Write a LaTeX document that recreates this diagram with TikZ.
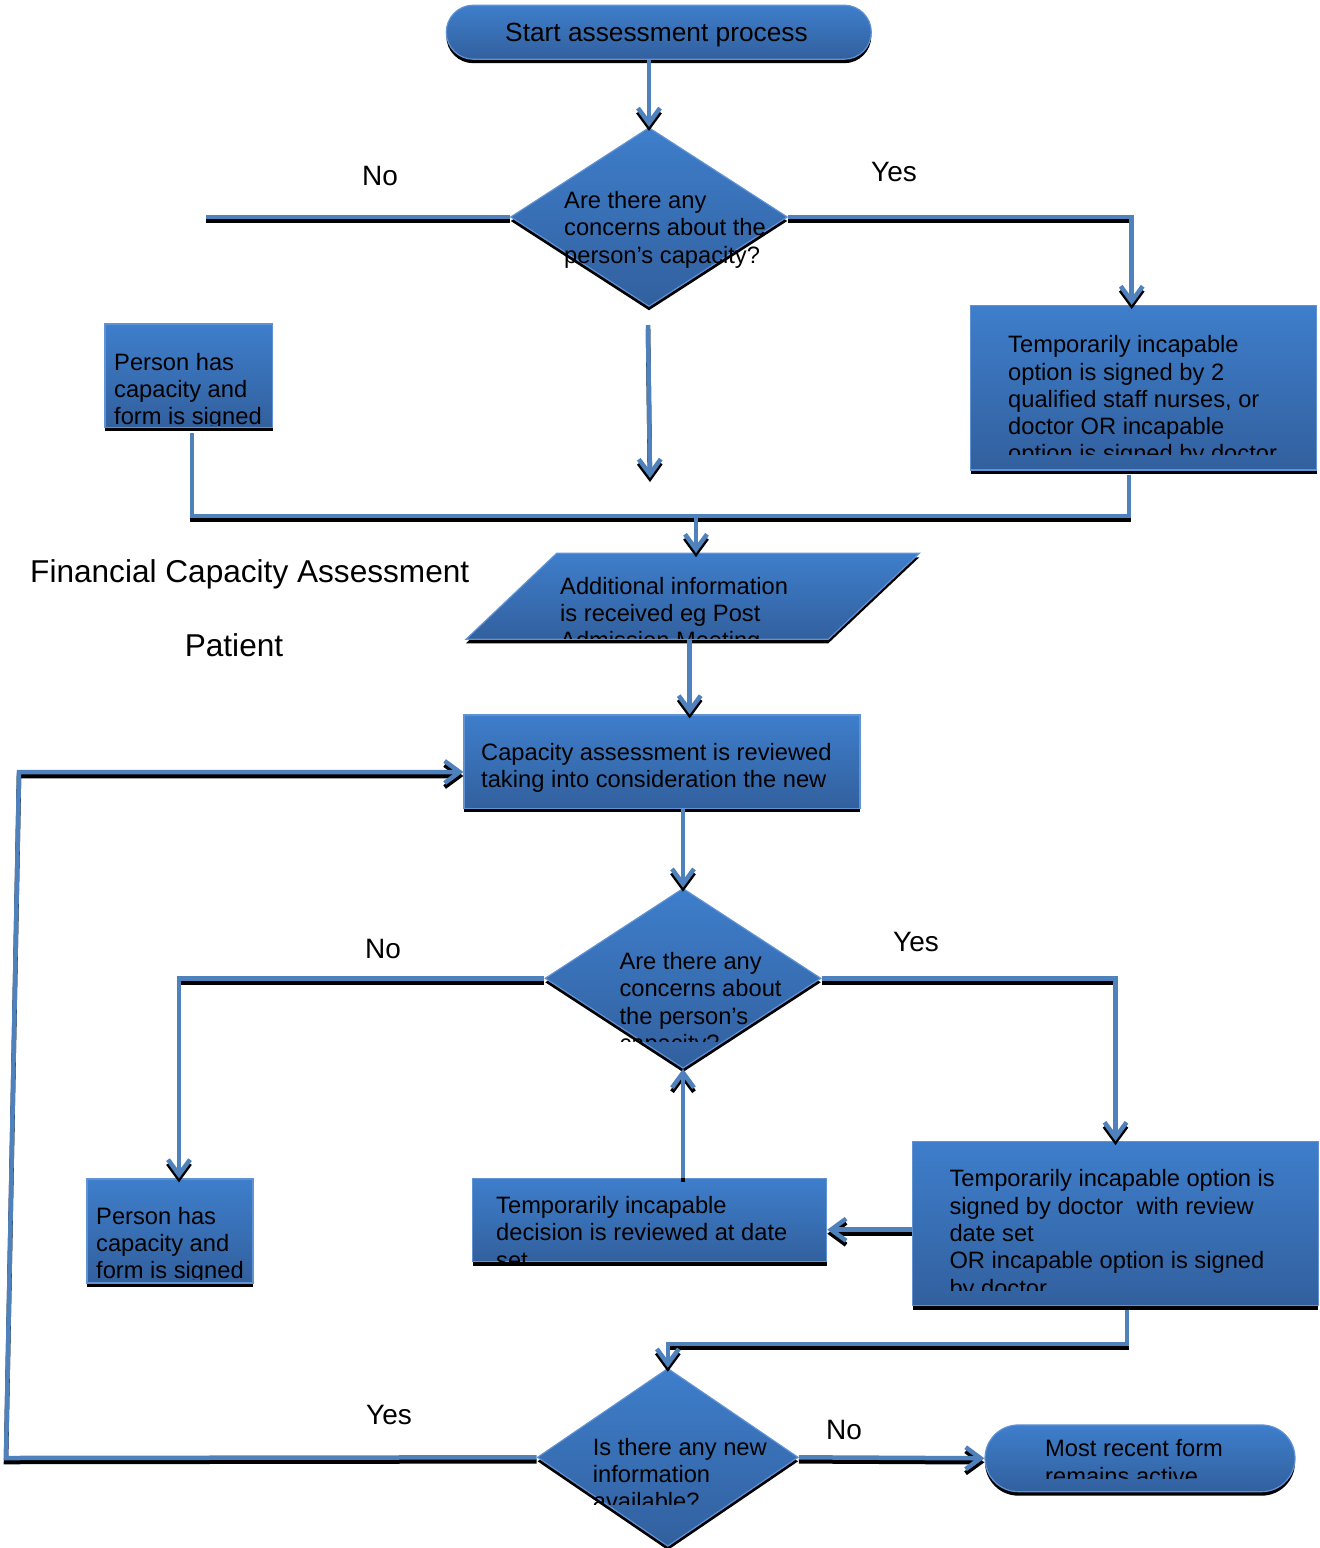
\documentclass[tikz,border=0pt]{standalone}
\usepackage{fontspec}
\setmainfont{Liberation Sans}
\usetikzlibrary{shapes.geometric,shapes.misc,shadows,arrows.meta}

\definecolor{topblue}{RGB}{62,126,203}
\definecolor{botblue}{RGB}{50,96,158}
\definecolor{edgeblue}{RGB}{96,146,212}
\definecolor{wireblue}{RGB}{79,129,189}

\tikzset{
  shapefill/.style={top color=topblue, bottom color=botblue, draw=edgeblue,
    line width=1.2pt, general shadow={fill=black, shadow yshift=-4pt}},
  procbox/.style={shapefill, rectangle, inner sep=0pt},
  decision/.style={shapefill, diamond, inner sep=0pt},
  terminal/.style={shapefill, rounded rectangle, inner sep=0pt},
  holder/.style={rectangle, inner sep=0pt, draw=none},
  boxtxt/.style={inner sep=0pt, align=left, anchor=north west,
    font=\fontsize{23.7}{27.3}\selectfont},
  lbl/.style={inner sep=0pt, font=\fontsize{28}{32}\selectfont},
  wire/.style={draw=wireblue, line width=4.5pt},
  wireshadow/.style={draw=black, line width=4.5pt, transform canvas={yshift=-4pt}},
  tip/.style={-{Straight Barb[length=15pt,width=22pt]}},
}

% a connector: black copy shifted down, blue line on top
\newcommand\link[2][]{\draw[wireshadow,#1] #2; \draw[wire,#1] #2;}
% text block cut off at a given bottom edge: name, x, first baseline, cut, text
\newcommand\cliptext[5]{%
  \begin{scope}
    \clip (#2-10,#3-30) rectangle (#2+420,#4);
    \node[boxtxt] (#1) at (#2,#3-19.11) {\strut #5};
  \end{scope}}

\begin{document}
\begin{tikzpicture}[x=1pt,y=-1pt]
\useasboundingbox (0,0) rectangle (1320,1548);

% ---- shapes
\node[terminal, minimum width=425, minimum height=54] (start) at (658.8,32.2) {};
\node[decision, minimum width=277, minimum height=179] (d1) at (649,217) {};
\node[procbox, minimum width=167.7, minimum height=103.3] (pcap1) at (188.8,375.7) {};
\node[procbox, minimum width=346, minimum height=164.3] (tinc1) at (1143.7,387.8) {};
\path[shapefill] (556.7,553.3) -- (919.3,553.3) -- (828.3,639.3) -- (466,639.3) -- cycle;
\node[holder, minimum width=453, minimum height=86] (para) at (692.7,596.3) {};
\node[procbox, minimum width=396, minimum height=93.3] (review) at (662,761.7) {};
\node[decision, minimum width=276, minimum height=180] (d2) at (683,978.3) {};
\node[procbox, minimum width=166, minimum height=104] (pcap2) at (170,1231) {};
\node[procbox, minimum width=354, minimum height=83.4] (revdate) at (649.7,1220) {};
\node[procbox, minimum width=405.6, minimum height=164] (tinc2) at (1115.5,1223.7) {};
\node[decision, minimum width=261, minimum height=178] (d3) at (667.8,1457.3) {};
\node[terminal, minimum width=310, minimum height=66.7] (final) at (1140,1458.3) {};

% ---- connectors
\coordinate (noEnd) at (206,217);
\coordinate (dropTop) at (648,325);
\coordinate (dropEnd) at (650,478);
\coordinate (busL) at (192,516);
\coordinate (busR) at (1129,516);
\coordinate (busM) at (696,516);
\coordinate (b3) at (1127,1344);
\coordinate (loopB) at (6,1458);
\coordinate (loopT) at (19,772);

\link[tip]{(start.south -| d1.north) -- (d1.north)}
\link{(d1.west) -- (noEnd)}
\link[tip]{(d1.east) -| ([xshift=-12pt]tinc1.north)}
\link[tip]{(dropTop) -- (dropEnd)}
\link{([yshift=-5pt]pcap1.south -| busL) -- (busL) -- (busR) -- ([yshift=-4pt]tinc1.south -| busR)}
\link[tip]{(busM) -- (busM |- para.north)}
\link[tip]{([xshift=-3pt]para.south) -- ([xshift=-3pt]para.south |- review.north)}
\link[tip]{(review.south -| d2.north) -- (d2.north)}
\link[tip]{(d2.west) -| ([xshift=9pt]pcap2.north)}
\link[tip]{(d2.east) -| (tinc2.north)}
\link[tip]{(d2.south |- revdate.north) -- (d2.south)}
\link[tip]{([yshift=-6pt]tinc2.west) -- ([yshift=-6pt]tinc2.west -| revdate.east)}
\link[tip]{([yshift=-4pt]tinc2.south -| b3) -- (b3) -| (d3.north)}
\link[tip]{(d3.west) -- (loopB) -- (loopT) -- (loopT -| review.west)}
\link[tip]{(d3.east) -- (final.west)}

% ---- texts inside the shapes
\node[inner sep=0pt, anchor=base, font=\fontsize{26.3}{30}\selectfont] (tstart) at (656.5,41) {Start assessment process};
\cliptext{td1}{564}{208.3}{400}{Are there any\\concerns about the\\person’s capacity?}
\cliptext{tpcap1}{114}{370}{425.5}{Person has\\capacity and\\form is signed}
\cliptext{ttinc1}{1008}{352.5}{454}{Temporarily incapable\\option is signed by 2\\qualified staff nurses, or\\doctor OR incapable\\option is signed by doctor}
\cliptext{tpara}{560}{594}{638.3}{Additional information\\is received eg Post\\Admission Meeting}
\cliptext{treview}{481}{760}{795}{Capacity assessment is reviewed\\taking into consideration the new\\information}
\cliptext{td2}{619.3}{969.3}{1041}{Are there any\\concerns about\\the person’s\\capacity?}
\cliptext{tpcap2}{96}{1224}{1279.5}{Person has\\capacity and\\form is signed}
\cliptext{trevdate}{496}{1213.3}{1262}{Temporarily incapable\\decision is reviewed at date\\set}
\cliptext{ttinc2}{949.3}{1186.7}{1290.7}{Temporarily incapable option is\\signed by doctor\ \ with review\\date set\\OR incapable option is signed\\by doctor}
\cliptext{td3}{592.7}{1455}{1504}{Is there any new\\information\\available?}
\cliptext{tfinal}{1045}{1456.7}{1478.3}{Most recent form\\remains active}

% ---- branch labels and titles
\node[lbl] (no1) at (380,176) {No};
\node[lbl] (yes1) at (894,172) {Yes};
\node[lbl] (no2) at (383,949) {No};
\node[lbl] (yes2) at (916,942) {Yes};
\node[lbl] (yes3) at (389,1415) {Yes};
\node[lbl] (no3) at (844,1430) {No};
\node[inner sep=0pt, anchor=base west, font=\fontsize{31.6}{36}\selectfont] (title) at (30,582) {Financial Capacity Assessment};
\node[inner sep=0pt, anchor=base, font=\fontsize{31.6}{36}\selectfont] (patient) at (234,656) {Patient};
\end{tikzpicture}
\end{document}
